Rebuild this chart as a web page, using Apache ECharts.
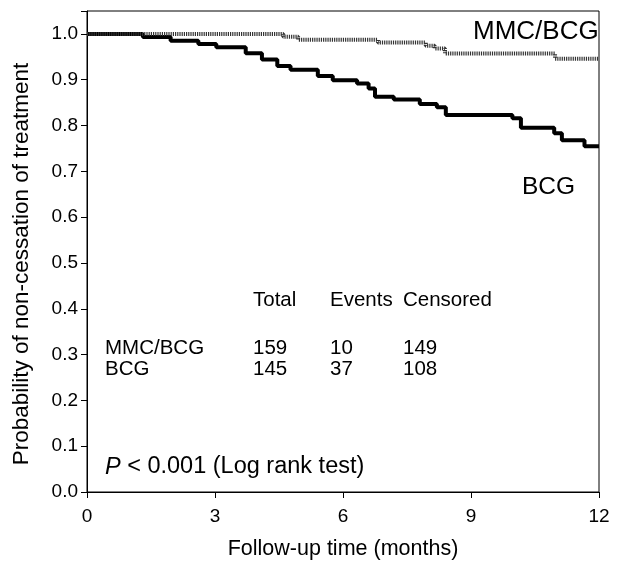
<!DOCTYPE html>
<html>
<head>
<meta charset="utf-8">
<script src="https://cdn.jsdelivr.net/npm/echarts@6/dist/echarts.min.js"></script>
<style>
html,body{margin:0;padding:0;background:#fff;}
#chart{width:619px;height:565px;}
</style>
</head>
<body>
<div id="chart"></div>
<script>
// Kaplan-Meier step points: [months, probability]
const bcgTimes = [0, 1.31, 1.96, 2.61, 3.03, 3.72, 4.10, 4.46, 4.77, 5.41, 5.76, 6.33, 6.60, 6.75, 7.19, 7.80, 8.20, 8.41, 9.97, 10.17, 10.95, 11.13, 11.66, 12.0];
const bcgSurv  = [1.0, 0.993, 0.985, 0.978, 0.971, 0.958, 0.944, 0.930, 0.922, 0.908, 0.899, 0.892, 0.881, 0.863, 0.857, 0.847, 0.840, 0.823, 0.816, 0.795, 0.783, 0.768, 0.755, 0.755];
const mmcTimes = [0, 4.60, 4.95, 6.82, 7.94, 8.15, 8.39, 10.97, 12.0];
const mmcSurv  = [1.0, 0.994, 0.987, 0.981, 0.974, 0.968, 0.957, 0.946, 0.946];
const xTicks = [0, 3, 6, 9, 12];
const tableHeader = ['Total', 'Events', 'Censored'];
const tableRows = [['MMC/BCG', '159', '10', '149'], ['BCG', '145', '37', '108']];

const FONT = '"Liberation Sans", Arial, sans-serif';
const chart = echarts.init(document.getElementById('chart'), null, {renderer: 'canvas'});

const zip = (a, b) => a.map((v, i) => [v, b[i]]);

function txt(x, y, text, size, extra) {
  return Object.assign({type: 'text', x: x, y: y, style: {
    text: text, font: size + 'px ' + FONT, fill: '#000', align: 'left', verticalAlign: 'middle'
  }}, extra || {});
}

const colX = [253, 330, 403];
const graphics = [];
tableHeader.forEach((t, i) => graphics.push(txt(colX[i], 300, t, 20.5)));
tableRows.forEach((r, ri) => {
  const y = 348 + ri * 21;
  graphics.push(txt(105, y, r[0], 20.5));
  for (let k = 1; k < 4; k++) graphics.push(txt(colX[k - 1], y, r[k], 20.5));
});
graphics.push(txt(473, 32, 'MMC/BCG', 26));
graphics.push(txt(522, 187, 'BCG', 24.5));
const pLabel = txt(105, 467, '{i|P} < 0.001 (Log rank test)', 23.5);
pLabel.style.rich = {i: {fontStyle: 'italic', fontSize: 23.5, fontFamily: FONT, fill: '#000'}};
graphics.push(pLabel);
// y-axis title, centred on the 0–1 range as in the original
const yTitle = txt(22, 264, 'Probability of non-cessation of treatment', 22.5, {rotation: Math.PI / 2});
yTitle.style.align = 'center';
graphics.push(yTitle);

chart.setOption({
  animation: false,
  backgroundColor: '#fff',
  grid: {left: 87, right: 20, top: 11, bottom: 71, show: true, borderColor: '#000', borderWidth: 1, containLabel: false},
  xAxis: {
    type: 'value', min: 0, max: 12, interval: 3,
    name: 'Follow-up time (months)', nameLocation: 'middle', nameGap: 46,
    nameTextStyle: {fontSize: 21.5, fontFamily: FONT, color: '#000'},
    axisLine: {show: true, lineStyle: {color: '#000', width: 1}},
    axisTick: {show: true, inside: false, length: 6, lineStyle: {color: '#000'}},
    axisLabel: {fontSize: 19, fontFamily: FONT, color: '#000', margin: 15,
      formatter: v => xTicks.includes(v) ? String(v) : ''},
    splitLine: {show: false}
  },
  yAxis: {
    type: 'value', min: 0, max: 1.05, interval: 0.1,
    axisLine: {show: true, lineStyle: {color: '#000', width: 1}},
    axisTick: {show: true, inside: false, length: 6, lineStyle: {color: '#000'}},
    axisLabel: {fontSize: 19, fontFamily: FONT, color: '#000', margin: 9,
      formatter: v => v > 1.001 ? '' : v.toFixed(1)},
    splitLine: {show: false}
  },
  series: [
    {
      name: 'MMC/BCG', type: 'line', step: 'end', symbol: 'none',
      data: zip(mmcTimes, mmcSurv),
      lineStyle: {color: '#333', width: 4, type: [1.2, 1]}, z: 3
    },
    {
      name: 'BCG', type: 'line', step: 'end', symbol: 'none',
      data: zip(bcgTimes, bcgSurv),
      lineStyle: {color: '#000', width: 4}, z: 2
    }
  ],
  graphic: graphics
});
</script>
</body>
</html>
